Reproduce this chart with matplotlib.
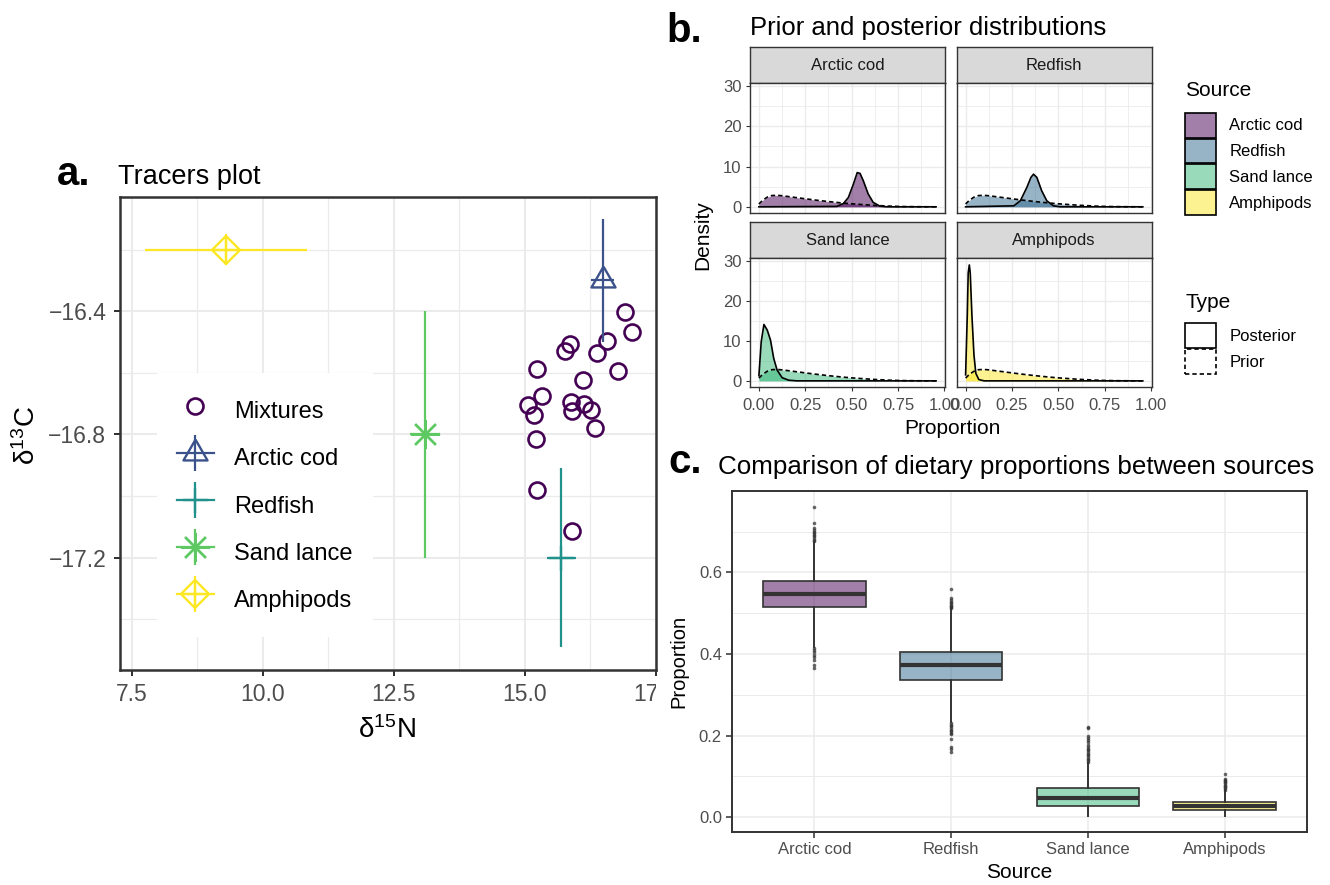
import numpy as np
import matplotlib.pyplot as plt
from matplotlib import colormaps
from matplotlib.lines import Line2D
from matplotlib.patches import Patch
from matplotlib.ticker import MultipleLocator
from matplotlib.transforms import Bbox, TransformedBbox

plt.rcParams['font.family'] = ['Liberation Sans', 'DejaVu Sans']
plt.rcParams['mathtext.fontset'] = 'custom'
plt.rcParams['mathtext.rm'] = 'Liberation Sans'
plt.rcParams['mathtext.it'] = 'Liberation Sans:italic'

W, H = 1330, 885
DARK = '#333333'
TICKC = '#4D4D4D'
GRID = '#EBEBEB'

# ---- panel a: mixtures and source means / sd
mix_d15n = [16.92, 17.06, 16.57, 15.77, 15.87, 16.39, 16.79, 15.23, 16.12, 15.34,
            15.06, 15.89, 16.13, 16.27, 15.90, 15.19, 16.35, 15.21, 15.24, 15.90]
mix_d13c = [-16.404, -16.468, -16.497, -16.528, -16.505, -16.537, -16.593, -16.589, -16.623, -16.676,
            -16.705, -16.695, -16.701, -16.720, -16.723, -16.736, -16.778, -16.815, -16.980, -17.112]

sources = ['Arctic cod', 'Redfish', 'Sand lance', 'Amphipods']
src_d15n = [16.49, 15.70, 13.10, 9.30]
src_d15n_sd = [0.22, 0.28, 0.28, 1.54]
src_d13c = [-16.30, -17.20, -16.80, -16.20]
src_d13c_sd = [0.20, 0.29, 0.40, 0.05]

# ---- panel b: densities
prior_x = [0.0, 0.02, 0.045, 0.07, 0.1, 0.125, 0.15, 0.2, 0.25, 0.3, 0.375, 0.45,
           0.5, 0.575, 0.625, 0.7, 0.75, 0.8, 0.875, 0.955]
prior_y = [0.7, 1.6, 2.4, 2.8, 2.85, 2.75, 2.6, 2.3, 2.0, 1.7, 1.3, 0.95,
           0.75, 0.5, 0.35, 0.18, 0.1, 0.05, 0.02, 0.0]

post_x = {
    'Arctic cod': [0.0, 0.42, 0.455, 0.482, 0.509, 0.53, 0.545, 0.5625, 0.589, 0.616, 0.652, 0.69, 0.955],
    'Redfish': [0.0, 0.26, 0.295, 0.33, 0.352, 0.366, 0.384, 0.41, 0.4375, 0.473, 0.51, 0.955],
    'Sand lance': [0.0, 0.0125, 0.027, 0.045, 0.0625, 0.08, 0.098, 0.125, 0.16, 0.205, 0.955],
    'Amphipods': [0.0, 0.009, 0.014, 0.02, 0.025, 0.034, 0.045, 0.055, 0.071, 0.1, 0.955],
}
post_y = {
    'Arctic cod': [0.0, 0.1, 0.8, 2.3, 5.6, 8.5, 8.3, 6.5, 3.2, 1.1, 0.17, 0.0, 0.0],
    'Redfish': [0.0, 0.25, 1.5, 4.8, 7.3, 8.1, 7.3, 4.0, 1.5, 0.25, 0.0, 0.0],
    'Sand lance': [1.3, 9.8, 14.1, 12.7, 10.2, 5.6, 2.7, 0.8, 0.17, 0.0, 0.0],
    'Amphipods': [1.5, 16.4, 27.0, 29.0, 27.0, 16.4, 6.5, 1.9, 0.33, 0.0, 0.0],
}

# ---- panel c: box statistics
box_q1 = [0.514, 0.337, 0.0285, 0.018]
box_med = [0.546, 0.372, 0.048, 0.0278]
box_q3 = [0.578, 0.406, 0.071, 0.0375]
box_lo = [0.418, 0.234, 0.002, 0.002]
box_hi = [0.674, 0.510, 0.134, 0.066]
box_fliers = [
    [0.676, 0.68, 0.684, 0.688, 0.692, 0.696, 0.70, 0.704, 0.708, 0.72, 0.76,
     0.415, 0.41, 0.404, 0.398, 0.392, 0.385, 0.372, 0.366],
    [0.512, 0.515, 0.518, 0.521, 0.524, 0.528, 0.532, 0.536, 0.559,
     0.231, 0.227, 0.223, 0.219, 0.215, 0.211, 0.207, 0.204, 0.192, 0.173, 0.167, 0.161],
    [0.136, 0.14, 0.144, 0.148, 0.152, 0.156, 0.16, 0.164, 0.168, 0.172,
     0.178, 0.185, 0.19, 0.195, 0.2, 0.218, 0.222],
    [0.068, 0.071, 0.074, 0.077, 0.08, 0.083, 0.086, 0.089, 0.092, 0.095, 0.106],
]

viridis = colormaps['viridis']
col5 = [viridis(v) for v in np.linspace(0, 1, 5)]
col4 = [viridis(v) for v in np.linspace(0, 1, 4)]
fill4 = [(c[0], c[1], c[2], 0.5) for c in col4]

fig = plt.figure(figsize=(W / 100, H / 100), dpi=100)


def px_axes(l, t, r, b):
    return fig.add_axes([l / W, 1 - b / H, (r - l) / W, (b - t) / H])


def style_axes(ax, lw=1.0, tick_len=4, fs=12, pad=3):
    for s in ax.spines.values():
        s.set_color(DARK)
        s.set_linewidth(lw)
    ax.tick_params(which='major', length=tick_len, width=lw * 0.8, color=DARK,
                   labelcolor=TICKC, labelsize=fs, pad=pad)
    ax.tick_params(which='minor', length=0)
    ax.set_axisbelow(True)


# ================= panel a =================
ax = px_axes(119.5, 196.5, 655.5, 670)
ax.set_xlim(7.27, 17.5)
ax.set_ylim(-17.564, -16.028)
ax.set_xticks([7.5, 10, 12.5, 15, 17.5], ['7.5', '10.0', '12.5', '15.0', '17.5'])
ax.set_yticks([-17.2, -16.8, -16.4], ['\u221217.2', '\u221216.8', '\u221216.4'])
ax.xaxis.set_minor_locator(MultipleLocator(1.25))
ax.yaxis.set_minor_locator(MultipleLocator(0.2))
ax.grid(which='major', color=GRID, lw=1.5)
ax.grid(which='minor', color=GRID, lw=0.9)
style_axes(ax, lw=1.8, tick_len=4.5, fs=16.5, pad=5)

ax.plot(mix_d15n, mix_d13c, ls='none', marker='o', mfc='none', mec=col5[0], ms=11.5, mew=1.9,
        zorder=3)

tri = [(0, 1), (-0.866, -0.5), (0.866, -0.5), (0, 1)]
src_markers = [
    [dict(marker=tri, ms=20, mfc='none', mew=1.7)],
    [dict(marker='+', ms=18, mew=1.7)],
    [dict(marker=(8, 2, 0), ms=21, mew=1.7)],
    [dict(marker='D', ms=14, mfc='none', mew=1.7), dict(marker='+', ms=20, mew=1.7)],
]
handles = [Line2D([], [], ls='none', marker='o', mfc='none', mec=col5[0], ms=11.5, mew=1.9)]
for i, name in enumerate(sources):
    c = col5[i + 1]
    ax.errorbar(src_d15n[i], src_d13c[i], xerr=src_d15n_sd[i], yerr=src_d13c_sd[i],
                fmt='none', ecolor=c, elinewidth=1.6, zorder=3)
    hs = [Line2D([], [], color=c, lw=1.6, marker='|', ms=26, mew=1.6)]
    for m in src_markers[i]:
        ax.plot(src_d15n[i], src_d13c[i], ls='none', color=c, mec=c, zorder=4, **m)
        hs.append(Line2D([], [], ls='none', color=c, mec=c, **m))
    handles.append(tuple(hs))

ax.legend(handles, ['Mixtures'] + sources, loc='upper left',
          bbox_to_anchor=(156.5 / W, 1 - 373 / H), bbox_transform=fig.transFigure,
          frameon=True, facecolor='white', edgecolor='none', framealpha=1, fancybox=False,
          fontsize=17, borderpad=0.85, borderaxespad=0, handlelength=1.6, handleheight=1.95,
          labelspacing=0.48, handletextpad=0.85, numpoints=1)

fig.text(57, H - 185, 'a.', fontsize=29, fontweight='bold', ha='left', va='baseline',
         transform=None)
fig.text(118.5, H - 184, 'Tracers plot', fontsize=19.5, ha='left', va='baseline', transform=None)
fig.text(387, H - 730, '\u03b4$^{15}$N', fontsize=20, ha='center', va='center', transform=None)
fig.text(27, H - 436, '\u03b4$^{13}$C', fontsize=20, ha='center', va='center', rotation=90,
         transform=None)

# labels of panel a end where its canvas ended
clip = TransformedBbox(Bbox.from_extents(0, 0, 656 / W, 1), fig.transFigure)
for lab in ax.get_xticklabels():
    lab.set_clip_on(True)
    lab.set_clip_box(clip)

# ================= panel b =================
fig.text(666, H - 41.5, 'b.', fontsize=29, fontweight='bold', ha='left', va='baseline',
         transform=None)
fig.text(750, H - 35, 'Prior and posterior distributions', fontsize=18.5, ha='left',
         va='baseline', transform=None)

cols_px = [(750, 945), (956.7, 1151.7)]
rows_px = [(47.3, 83.3, 212.7), (222.3, 258.3, 386.7)]
for i, name in enumerate(sources):
    r, c = divmod(i, 2)
    l, rr = cols_px[c]
    st, pt, pb = rows_px[r]
    sx = px_axes(l, st, rr, pt)
    sx.set_facecolor('#D9D9D9')
    sx.set_xticks([])
    sx.set_yticks([])
    for s in sx.spines.values():
        s.set_color(DARK)
        s.set_linewidth(1.0)
    sx.text(0.5, 0.5, name, transform=sx.transAxes, ha='center', va='center',
            fontsize=12, color='#1A1A1A')

    bx = px_axes(l, pt, rr, pb)
    bx.set_xlim(-0.048, 1.003)
    bx.set_ylim(-1.46, 30.66)
    bx.set_xticks([0, 0.25, 0.5, 0.75, 1.0])
    bx.set_yticks([0, 10, 20, 30])
    bx.xaxis.set_minor_locator(MultipleLocator(0.125))
    bx.yaxis.set_minor_locator(MultipleLocator(5))
    bx.grid(which='major', color=GRID, lw=1.0)
    bx.grid(which='minor', color=GRID, lw=0.6)
    style_axes(bx, lw=1.0, tick_len=3.2, fs=12, pad=3)
    if r == 1:
        bx.set_xticklabels(['0.00', '0.25', '0.50', '0.75', '1.00'])
        bx.tick_params(axis='x', pad=5)
    else:
        bx.tick_params(axis='x', length=0, labelbottom=False)
    if c == 1:
        bx.tick_params(axis='y', length=0, labelleft=False)

    bx.fill_between(prior_x, prior_y, 0, color=fill4[i], lw=0)
    bx.fill_between(post_x[name], post_y[name], 0, color=fill4[i], lw=0)
    bx.plot(prior_x, prior_y, color='black', lw=1.2, ls=(0, (2.6, 1.8)))
    bx.plot(post_x[name], post_y[name], color='black', lw=1.2)

fig.text(703, H - 235, 'Density', fontsize=15, rotation=90, ha='center', va='center',
         transform=None)
fig.text(952, H - 428, 'Proportion', fontsize=15, ha='center', va='center', transform=None)

fig.text(1185, H - 90.7, 'Source', fontsize=15, ha='left', va='center', transform=None)
src_handles = [Patch(facecolor=fill4[i], edgecolor='black', lw=1.2) for i in range(4)]
fig.legend(src_handles, sources, loc='upper left',
           bbox_to_anchor=(1185 / W, 1 - 112.7 / H), frameon=False, fontsize=12,
           borderpad=0, borderaxespad=0, handlelength=1.86, handleheight=1.92,
           labelspacing=0.06, handletextpad=0.8)

fig.text(1185, H - 302.3, 'Type', fontsize=15, ha='left', va='center', transform=None)
type_handles = [Patch(facecolor='white', edgecolor='black', lw=1.2),
                Patch(facecolor='white', edgecolor='black', lw=1.2, ls=(0, (2.6, 1.8)))]
fig.legend(type_handles, ['Posterior', 'Prior'], loc='upper left',
           bbox_to_anchor=(1185 / W, 1 - 323.3 / H), frameon=False, fontsize=12,
           borderpad=0, borderaxespad=0, handlelength=1.86, handleheight=1.92,
           labelspacing=0.06, handletextpad=0.8)

# ================= panel c =================
fig.text(668.5, H - 473, 'c.', fontsize=29, fontweight='bold', ha='left', va='baseline',
         transform=None)
fig.text(718, H - 474, 'Comparison of dietary proportions between sources', fontsize=18.7,
         ha='left', va='baseline', transform=None)

cx = px_axes(732.3, 490.7, 1306.7, 832)
stats = []
for i, name in enumerate(sources):
    stats.append(dict(label=name, q1=box_q1[i], med=box_med[i], q3=box_q3[i],
                      whislo=box_lo[i], whishi=box_hi[i], fliers=box_fliers[i]))
arts = cx.bxp(stats, positions=[1, 2, 3, 4], widths=0.75, patch_artist=True,
              boxprops=dict(edgecolor=DARK, lw=1.2),
              medianprops=dict(color=DARK, lw=3.0, solid_capstyle='butt'),
              whiskerprops=dict(color=DARK, lw=1.4),
              capprops=dict(lw=0),
              flierprops=dict(marker='o', ms=2.6, mfc=DARK, mec='none', alpha=0.75))
for patch, f in zip(arts['boxes'], fill4):
    patch.set_facecolor(f)
for cap in arts['caps']:
    cap.set_visible(False)

cx.set_xlim(0.4, 4.6)
cx.set_ylim(-0.036, 0.80)
cx.set_yticks([0.0, 0.2, 0.4, 0.6], ['0.0', '0.2', '0.4', '0.6'])
cx.yaxis.set_minor_locator(MultipleLocator(0.1))
cx.grid(which='major', color=GRID, lw=1.1)
cx.grid(which='minor', color=GRID, lw=0.7)
cx.xaxis.grid(True, which='major', color=GRID, lw=1.1)
style_axes(cx, lw=1.4, tick_len=4, fs=12, pad=3.5)

fig.text(679, H - 661, 'Proportion', fontsize=14.5, rotation=90, ha='center', va='center',
         transform=None)
fig.text(1019.5, H - 872, 'Source', fontsize=15, ha='center', va='center', transform=None)

fig.savefig('out.png', dpi=100, facecolor='white')
